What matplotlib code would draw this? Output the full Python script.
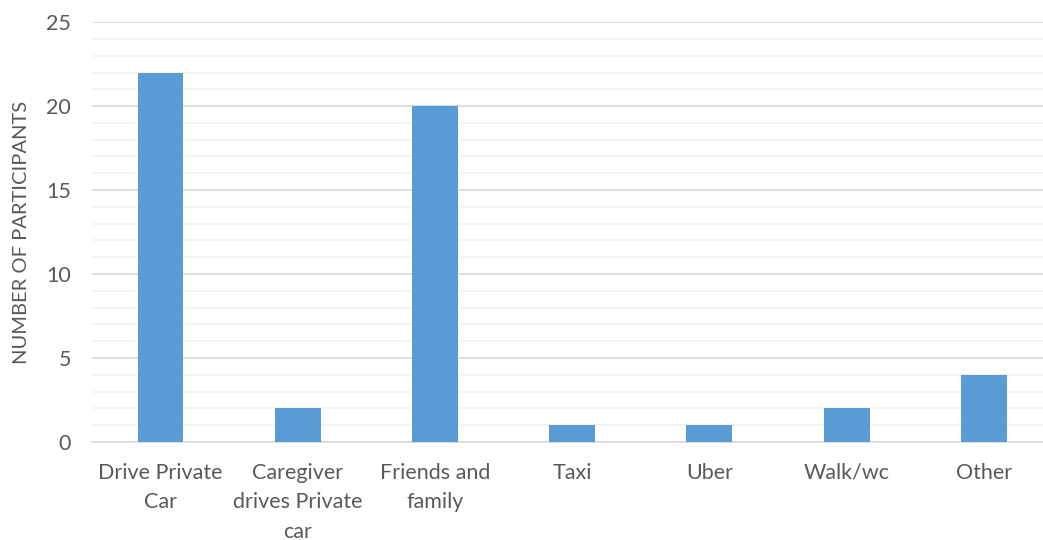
import matplotlib.pyplot as plt
import numpy as np

categories = ['Drive Private\nCar', 'Caregiver\ndrives Private\ncar', 'Friends and\nfamily',
              'Taxi', 'Uber', 'Walk/wc', 'Other']
participants = [22, 2, 20, 1, 1, 2, 4]

plt.rcParams['font.family'] = ['Lato', 'DejaVu Sans']

fig = plt.figure(figsize=(10.43, 5.40), dpi=100)
ax = fig.add_axes([0.0881, 0.1815, 0.921, 0.7775])

x = np.arange(len(categories))
ax.bar(x, participants, width=0.335, color='#5B9BD5', zorder=3)

ax.set_xlim(-0.5, len(categories) - 0.5)
ax.set_ylim(0, 25)
ax.set_yticks(np.arange(0, 26, 5))
ax.set_yticks(np.arange(0, 26, 1), minor=True)
ax.grid(axis='y', which='major', color='#d9d9d9', linewidth=1.2, zorder=0)
ax.grid(axis='y', which='minor', color='#f2f2f2', linewidth=1.2, zorder=0)

ax.set_xticks(x)
ax.set_xticklabels(categories, fontsize=15.5, color='#595959', linespacing=1.6, va='top')
ax.tick_params(axis='x', length=0, pad=15)
ax.tick_params(axis='y', which='both', length=0, labelsize=15.5, labelcolor='#595959', pad=15)

for s in ['top', 'right', 'left']:
    ax.spines[s].set_visible(False)
ax.spines['bottom'].set_color('#d9d9d9')
ax.spines['bottom'].set_linewidth(1.2)

ax.set_ylabel('NUMBER OF PARTICIPANTS', fontsize=14.5, color='#595959', labelpad=12)

plt.savefig('out.png', dpi=100)
